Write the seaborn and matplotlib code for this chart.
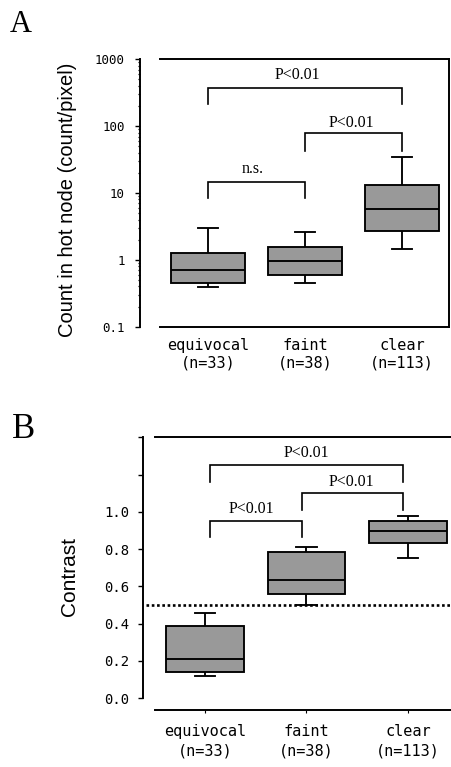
import numpy as np
import pandas as pd
import matplotlib
matplotlib.use("Agg")
import matplotlib.pyplot as plt
import seaborn as sns
from matplotlib.ticker import NullFormatter

# ---------------- data ----------------
groups = ["equivocal", "faint", "clear"]
group_labels = ["equivocal\n(n=33)", "faint\n(n=38)", "clear\n(n=113)"]

# five-number summaries: whisker low, Q1, median, Q3, whisker high
count_equivocal = [0.39, 0.446, 0.705, 1.25, 2.96]
count_faint = [0.455, 0.593, 0.97, 1.57, 2.58]
count_clear = [1.44, 2.73, 5.76, 13.2, 34.9]

contrast_equivocal = [0.120, 0.143, 0.209, 0.388, 0.456]
contrast_faint = [0.50, 0.558, 0.635, 0.785, 0.81]
contrast_clear = [0.751, 0.835, 0.898, 0.953, 0.978]

count_ticks = [0.1, 1, 10, 100, 1000]
count_tick_labels = ["0.1", "1", "10", "100", "1000"]
contrast_ticks = [0.0, 0.2, 0.4, 0.6, 0.8, 1.0, 1.2, 1.4]
contrast_tick_labels = ["0.0", "0.2", "0.4", "0.6", "0.8", "1.0", "", ""]
contrast_cutoff = 0.5

# significance brackets
brackets_A_pairs = [(0, 1), (1, 2), (0, 2)]
brackets_A_bar = [14.4, 77.8, 373]
brackets_A_leg = [8.3, 42.8, 213]
brackets_A_text = ["n.s.", "P<0.01", "P<0.01"]
brackets_A_text_x = [0.46, 1.48, 0.92]
brackets_A_text_y = [19.6, 97.1, 502]

brackets_B_pairs = [(0.05, 0.96), (0.96, 1.95), (0.05, 1.95)]
brackets_B_bar = [0.953, 1.103, 1.252]
brackets_B_leg = [0.867, 1.010, 1.162]
brackets_B_text = ["P<0.01", "P<0.01", "P<0.01"]
brackets_B_text_x = [0.46, 1.44, 1.0]
brackets_B_text_y = [0.992, 1.139, 1.293]

# ---------------- style ----------------
W, H = 451, 767
MONO = "DejaVu Sans Mono"
SANS = "Liberation Sans"
SERIF = "Liberation Serif"
plt.rcParams["font.family"] = ["DejaVu Sans"]

fig = plt.figure(figsize=(W / 100, H / 100), dpi=100)
fig.patch.set_facecolor("white")


def px_axes(left, right, top, bottom):
    return fig.add_axes([left / W, 1 - bottom / H, (right - left) / W, (bottom - top) / H])


def draw_boxes(ax, value_lists):
    df = pd.DataFrame({
        "group": np.repeat(groups, [len(v) for v in value_lists]),
        "value": np.concatenate(value_lists),
    })
    sns.boxplot(data=df, x="group", y="value", order=groups, whis=(0, 100),
                width=0.76, color="#999999", saturation=1, linecolor="black",
                linewidth=1.35, capwidths=0.2, ax=ax)


def draw_brackets(ax, pairs, bars, legs, texts, tx, ty, fs):
    for (a, b), h, l in zip(pairs, bars, legs):
        ax.plot([a, a, b, b], [l, h, h, l], color="black", lw=1.2,
                solid_joinstyle="miter", clip_on=False)
    for t, x, y in zip(texts, tx, ty):
        ax.text(x, y, t, ha="center", va="baseline", fontsize=fs,
                family=SERIF, color="black")


# ---------------- panel A ----------------
axA = px_axes(140, 449, 59.3, 326.7)
axA.set_yscale("log")
draw_boxes(axA, [count_equivocal, count_faint, count_clear])
xa0, xa1 = -0.701, 2.485
axA.set_xlim(xa0, xa1)
axA.set_ylim(0.1, 1000)
axA.set_yticks(count_ticks, count_tick_labels)
axA.yaxis.set_minor_formatter(NullFormatter())
axA.set_xticks(range(len(groups)), group_labels)
axA.set_xlabel("")
axA.set_ylabel("")
for s in axA.spines.values():
    s.set_linewidth(1.4)
    s.set_color("black")
axA.spines["top"].set_bounds(xa0 + 20 / 97, xa1)
axA.spines["bottom"].set_bounds(xa0 + 20 / 97, xa1)
axA.tick_params(axis="y", which="major", direction="out", length=3.5, width=1.0,
                pad=7.5, labelsize=9)
axA.tick_params(axis="y", which="minor", direction="out", length=1.8, width=0.9)
axA.tick_params(axis="x", length=0, pad=8, labelsize=11)
for lab in axA.get_yticklabels():
    lab.set_family(MONO)
for lab in axA.get_xticklabels():
    lab.set_family(MONO)
    lab.set_linespacing(1.2)
draw_brackets(axA, brackets_A_pairs, brackets_A_bar, brackets_A_leg,
              brackets_A_text, brackets_A_text_x, brackets_A_text_y, 11.5)

fig.text(68 / W, 1 - 200 / H, "Count in hot node (count/pixel)", rotation=90,
         ha="center", va="center", fontsize=14.5, family=SANS)
fig.text(10 / W, 1 - 32 / H, "A", fontsize=22, family=SERIF, ha="left", va="baseline")

# ---------------- panel B ----------------
axB = px_axes(143.3, 452, 437.3, 710)
draw_boxes(axB, [contrast_equivocal, contrast_faint, contrast_clear])
xb0, xb1 = -0.608, 2.434
axB.set_xlim(xb0, xb1)
axB.set_ylim(-0.063, 1.4)
axB.set_yticks(contrast_ticks, contrast_tick_labels)
axB.set_xticks(range(len(groups)), group_labels)
axB.set_xlabel("")
axB.set_ylabel("")
for s in axB.spines.values():
    s.set_linewidth(1.4)
    s.set_color("black")
axB.spines["right"].set_visible(False)
axB.spines["left"].set_bounds(0.0, 1.4)
axB.spines["top"].set_bounds(xb0 + 11.7 / 101.5, xb1)
axB.spines["bottom"].set_bounds(xb0 + 11.7 / 101.5, xb1)
axB.tick_params(axis="y", direction="out", length=3.5, width=1.0, pad=6.5, labelsize=10)
axB.tick_params(axis="x", direction="out", length=2, width=0.8, pad=8, labelsize=11)
for lab in axB.get_yticklabels():
    lab.set_family(MONO)
for lab in axB.get_xticklabels():
    lab.set_family(MONO)
    lab.set_linespacing(1.4)
axB.axhline(contrast_cutoff, xmin=0.01, xmax=1, color="black", lw=1.9,
            linestyle=(0, (1, 1)), zorder=1)
draw_brackets(axB, brackets_B_pairs, brackets_B_bar, brackets_B_leg,
              brackets_B_text, brackets_B_text_x, brackets_B_text_y, 11.5)

fig.text(70 / W, 1 - 577 / H, "Contrast", rotation=90, ha="center", va="center",
         fontsize=15, family=SANS)
fig.text(12 / W, 1 - 438 / H, "B", fontsize=25, family=SERIF, ha="left", va="baseline")

fig.savefig("out.png", dpi=100, facecolor="white")
